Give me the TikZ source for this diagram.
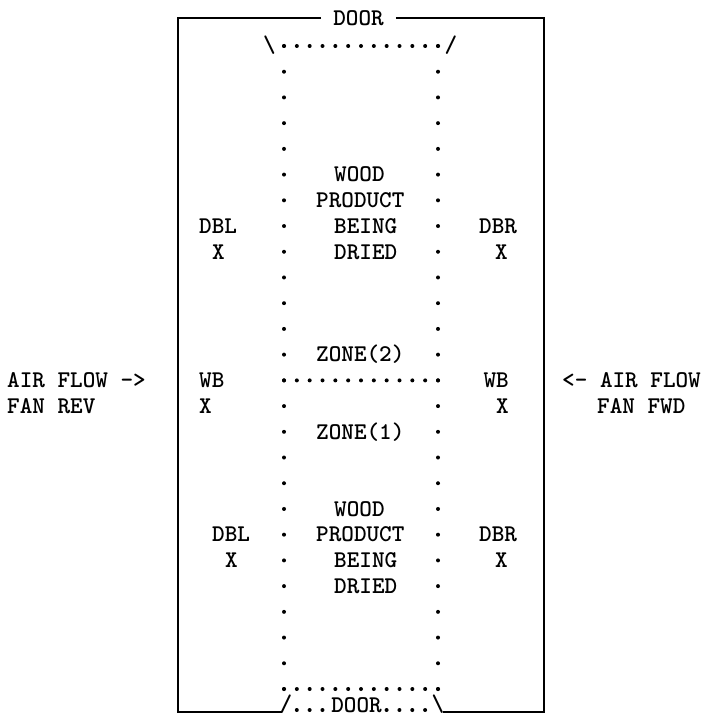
\documentclass[tikz,border=0pt]{standalone}
\begin{document}
\begin{tikzpicture}[
  x=1pt, y=-1pt,
  txt/.style={font=\ttfamily\bfseries\fontsize{24}{24}\selectfont, inner sep=0pt,
              text height=14.5pt, text depth=0pt, anchor=west},
  ctxt/.style={txt, anchor=center},
  rtxt/.style={txt, anchor=east},
  wall/.style={line width=2.2pt, black},
  dotrow/.style={line width=4pt, line cap=round, dash pattern=on 0pt off 12.833pt},
  dotcol/.style={line width=4pt, line cap=round, dash pattern=on 0pt off 25.72pt},
]
\useasboundingbox (0,0) rectangle (703,717);
\fill[white] (0,0) rectangle (703,717);

%% ---- Kiln walls and doors ----
\node[ctxt, inner xsep=12pt] at (358.5,18) (doorTop) {DOOR};
\draw[wall] (doorTop.west) -- (178,18) -- (178,712) -- (282,712);
\draw[wall] (doorTop.east) -- (544,18) -- (544,712) -- (443,712);

\node[ctxt] at (286,704) (slashBL) {/};
\node[ctxt] at (438,704) (slashBR) {\textbackslash};
\node[ctxt] at (356.5,705) (doorBot) {DOOR};
\draw[dotrow] (296.8,710) -- (323,710);
\draw[dotrow] (386.6,710) -- (425.5,710);

%% ---- Outline of the stack (dots on a 12.83 x 25.72 grid) ----
\node[ctxt] at (269.5,45) (slashTL) {\textbackslash};
\node[ctxt] at (451,45)   (slashTR) {/};
\draw[dotrow] (284,46)    -- (438.3,46);
\draw[dotrow] (284,380.4) -- (438.3,380.4);
\draw[dotrow] (284,689)   -- (438.3,689);
\draw[dotcol] (284,46) -- (284,689.3);
\draw[dotcol] (438,46) -- (438,689.3);

%% ---- Zone 2 (upper) ----
\node[txt] at (334,174.6) (woodU)  {WOOD};
\node[txt] at (316,200.3) (prodU)  {PRODUCT};
\node[txt] at (334,226.0) (beingU) {BEING};
\node[txt] at (334,251.8) (driedU) {DRIED};
\node[txt] at (316,354.6) (zoneTwo) {ZONE(2)};

\node[txt]  at (199,226.0)   (dblU)  {DBL};
\node[ctxt] at (218.5,251.8) (dblUx) {X};
\node[txt]  at (479,226.0)   (dbrU)  {DBR};
\node[ctxt] at (501.5,251.8) (dbrUx) {X};

%% ---- Wet bulbs and air flow ----
\node[txt]  at (199,380.4) (wbL)  {WB};
\node[txt]  at (199,406.1) (wbLx) {X};
\node[rtxt] at (509,380.4) (wbR)  {WB};
\node[rtxt] at (509,406.1) (wbRx) {X};

\node[txt]  at (7,380.4)   (flowL)  {AIR FLOW ->};
\node[txt]  at (7,406.1)   (fanRev) {FAN REV};
\node[rtxt] at (701,380.4) (flowR)  {<- AIR FLOW};
\node[txt]  at (597,406.1) (fanFwd) {FAN FWD};

%% ---- Zone 1 (lower) ----
\node[txt] at (316,431.8) (zoneOne) {ZONE(1)};
\node[txt] at (334,509.0) (woodD)  {WOOD};
\node[txt] at (316,534.7) (prodD)  {PRODUCT};
\node[txt] at (334,560.4) (beingD) {BEING};
\node[txt] at (334,586.1) (driedD) {DRIED};

\node[txt]  at (212,534.7)   (dblD)  {DBL};
\node[ctxt] at (231.5,560.4) (dblDx) {X};
\node[txt]  at (479,534.7)   (dbrD)  {DBR};
\node[ctxt] at (501.5,560.4) (dbrDx) {X};

\end{tikzpicture}
\end{document}
